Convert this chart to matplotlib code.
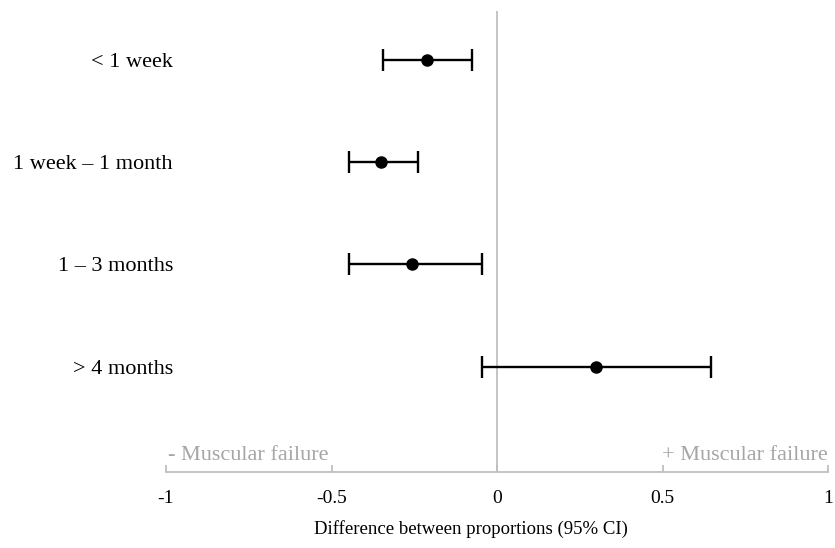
import matplotlib.pyplot as plt
import numpy as np

categories = ['< 1 week', '1 week – 1 month', '1 – 3 months', '> 4 months']
estimate = [-0.21, -0.35, -0.257, 0.30]
ci_low = [-0.345, -0.447, -0.447, -0.045]
ci_high = [-0.075, -0.24, -0.045, 0.647]
xticks = [-1, -0.5, 0, 0.5, 1]
xtick_labels = ['-1', '-0.5', '0', '0.5', '1']

plt.rcParams['font.family'] = ['Liberation Serif', 'DejaVu Serif']

fig = plt.figure(figsize=(8.35, 5.48), dpi=100)
ax = fig.add_axes([166 / 835, 1 - 472 / 548, (828 - 166) / 835, (472 - 11) / 548])

y = np.arange(len(categories))
est = np.array(estimate)
err = [est - np.array(ci_low), np.array(ci_high) - est]

ax.axvline(0, color='#bfbfbf', lw=1.3, zorder=1)
ax.errorbar(est, y, xerr=err, fmt='o', color='black', ms=8, lw=1.7,
            capsize=8, capthick=1.7, zorder=3)

ax.set_xlim(-1, 1)
ax.set_ylim(4.03, -0.48)
ax.set_yticks(y)
ax.set_yticklabels(categories, fontsize=16)
ax.set_xticks(xticks)
ax.set_xticklabels(xtick_labels, fontsize=14)
ax.tick_params(axis='y', length=0, pad=-5)
ax.tick_params(axis='x', direction='in', length=5, color='#bfbfbf', width=1.3, pad=13)

for side in ['top', 'right', 'left']:
    ax.spines[side].set_visible(False)
ax.spines['bottom'].set_color('#bfbfbf')
ax.spines['bottom'].set_linewidth(1.3)

ax.text(-0.995, 3.87, '- Muscular failure', color='#a6a6a6', fontsize=16,
        ha='left', va='center')
ax.text(1.0, 3.87, '+ Muscular failure', color='#a6a6a6', fontsize=16,
        ha='right', va='center')

ax.set_xlabel('Difference between proportions (95% CI)', fontsize=13.5)
ax.xaxis.set_label_coords(0.461, -0.104)

fig.savefig('out.png', dpi=100)
